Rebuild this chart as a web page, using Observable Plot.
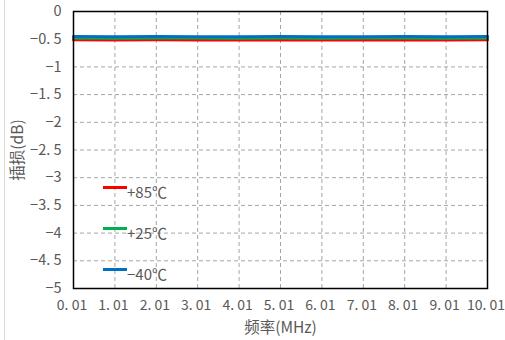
<!DOCTYPE html>
<html>
<head>
<meta charset="utf-8">
<script src="https://cdn.jsdelivr.net/npm/d3@7"></script>
<script src="https://cdn.jsdelivr.net/npm/@observablehq/plot@0.6"></script>
<style>
  html, body { margin: 0; padding: 0; background: #fff; }
  #wrap { position: relative; width: 505px; height: 340px; overflow: hidden; }
  #edge { position: absolute; left: 4px; top: 0; width: 0; height: 340px; border-left: 1px solid #d9d9d9; }
  .leg { position: absolute; font-family: "Noto Sans CJK SC", "Noto Sans", sans-serif; font-size: 15px; color: #595959; line-height: 1; white-space: nowrap; }
  .leg span.sw { position: absolute; left: 0; width: 24px; height: 3px; }
  .leg span.tx { position: absolute; left: 24px; top: -2px; }
</style>
</head>
<body>
<div id="wrap"><div id="edge"></div></div>
<script>
// ---- data ----
const freq = [0.01, 1.01, 2.01, 3.01, 4.01, 5.01, 6.01, 7.01, 8.01, 9.01, 10.01];
const loss85 = [-0.51, -0.515, -0.512, -0.514, -0.513, -0.515, -0.514, -0.513, -0.515, -0.514, -0.512];
const loss25 = [-0.48, -0.481, -0.479, -0.48, -0.482, -0.48, -0.481, -0.48, -0.479, -0.481, -0.48];
const lossM40 = [-0.452, -0.454, -0.453, -0.455, -0.454, -0.453, -0.455, -0.454, -0.453, -0.455, -0.452];
const seriesNames = ["+85℃", "+25℃", "−40℃"];
const seriesColors = ["#ff0000", "#00b050", "#0070c0"];
const xTicks = [0.01, 1.01, 2.01, 3.01, 4.01, 5.01, 6.01, 7.01, 8.01, 9.01, 10.01];
const xTickLabels = ["0. 01", "1. 01", "2. 01", "3. 01", "4. 01", "5. 01", "6. 01", "7. 01", "8. 01", "9. 01", "10. 01"];
const yTicks = [0, -0.5, -1, -1.5, -2, -2.5, -3, -3.5, -4, -4.5, -5];
const yTickLabels = ["0", "−0. 5", "−1", "−1. 5", "−2", "−2. 5", "−3", "−3. 5", "−4", "−4. 5", "−5"];
const xTitle = "频率(MHz)";
const yTitle = "插损(dB)";

const allSeries = [loss85, loss25, lossM40];
const rows = [];
allSeries.forEach((vals, s) => vals.forEach((v, i) => rows.push({x: freq[i], y: v, s: seriesNames[s]})));

const font = '"Noto Sans CJK SC", "Noto Sans", sans-serif';
const chart = Plot.plot({
  width: 505,
  height: 340,
  marginLeft: 73,
  marginRight: 18,
  marginTop: 11,
  marginBottom: 52,
  style: {fontFamily: font, fontSize: "14px", color: "#595959", background: "transparent"},
  x: {domain: [0.01, 10.01], label: null},
  y: {domain: [-5, 0], label: null},
  color: {domain: seriesNames, range: seriesColors},
  marks: [
    Plot.gridX(xTicks.slice(1, -1), {stroke: "#a6a6a6", strokeOpacity: 1, strokeDasharray: "4,3"}),
    Plot.gridY(yTicks.slice(1, -1), {stroke: "#a6a6a6", strokeOpacity: 1, strokeDasharray: "4,3"}),
    Plot.axisX({ticks: xTicks, tickFormat: d => xTickLabels[xTicks.indexOf(d)], tickSize: 0, tickPadding: 12, label: null, fontSize: 14, dx: -1.5}),
    Plot.axisY({ticks: yTicks, tickFormat: d => yTickLabels[yTicks.indexOf(d)], tickSize: 0, tickPadding: 12, label: null, fontSize: 14.5}),
    Plot.line(rows, {x: "x", y: "y", z: "s", stroke: "s", strokeWidth: 3}),
    Plot.frame({stroke: "#000", strokeWidth: 1.5}),
    Plot.text([xTitle], {frameAnchor: "bottom", dy: 44, fontSize: 15.5, fill: "#595959"}),
    Plot.text([yTitle], {frameAnchor: "left", textAnchor: "middle", dx: -55, rotate: -90, fontSize: 15.5, fill: "#595959"})
  ]
});
const wrap = document.getElementById("wrap");
chart.style.position = "absolute";
chart.style.left = "0";
chart.style.top = "0";
wrap.appendChild(chart);

// legend overlay
const legTops = [186, 227, 268];
seriesNames.forEach((n, i) => {
  const d = document.createElement("div");
  d.className = "leg";
  d.style.left = "103px";
  d.style.top = legTops[i] + "px";
  d.innerHTML = `<span class="sw" style="background:${seriesColors[i]}"></span><span class="tx">${n}</span>`;
  wrap.appendChild(d);
});
</script>
</body>
</html>
